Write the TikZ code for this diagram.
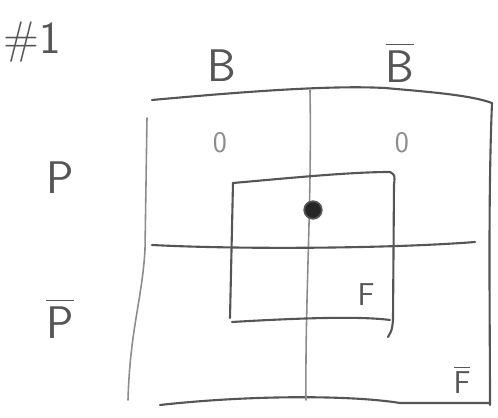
\documentclass[tikz,border=0pt]{standalone}
\usepackage{amsmath}
\usepackage{xcolor}
\definecolor{pencil}{RGB}{85,85,85}
\definecolor{pencillight}{RGB}{140,140,140}
\tikzset{
  pen/.style={pencil,line width=1.2pt,line cap=round,line join=round},
  penlight/.style={pencillight,line width=0.9pt,line cap=round},
  hand/.style={pencil,font=\sffamily\fontsize{26}{28}\selectfont},
  handsmall/.style={pencillight,font=\sffamily\fontsize{17}{18}\selectfont}
}

\begin{document}
\begin{tikzpicture}[x=0.02cm,y=-0.02cm]
  \useasboundingbox (0,0) rectangle (498,418);
  % labels
  \node[hand] (num) at (32,42) {\#1};
  \node[hand] (b) at (222,66) {B};
  \node[hand] (bbar) at (400,62) {$\overline{\text{B}}$};
  \node[hand] (p) at (60,178) {P};
  \node[hand] (pbar) at (60,318) {$\overline{\text{P}}$};
  % outer square
  \draw[pen](152,100) .. controls (240,92) and (330,85) .. (385,88) .. controls (430,92) and (470,95) .. (492,103);
  \draw[penlight](147,118)--(145,250) .. controls (142,300) and (130,330) .. (128,400);
  \draw[pen](492,103) .. controls (488,200) and (490,320) .. (490,405);
  \draw[pen](160,405) .. controls (250,395) and (350,395) .. (400,403)--(490,403);
  % cross lines
  \draw[penlight](310,90) .. controls (312,200) and (305,300) .. (306,400);
  \draw[pen](152,245) .. controls (250,250) and (400,248) .. (475,242);
  % inner square
  \draw[pen](233,183) .. controls (290,178) and (350,172) .. (390,172) .. controls (395,175) .. (394,185)--(393,320) .. controls (392,330) .. (388,337);
  \draw[pen](233,183)--(230,318);
  \draw[pen](232,322) .. controls (300,318) and (360,316) .. (390,320);
  % cell marks
  \node[handsmall] (ob) at (220,143) {0};
  \node[handsmall] (obbar) at (402,143) {0};
  \node[circle,fill=black!85,draw=pencil,line width=1pt,inner sep=0pt,minimum size=10pt] (dot) at (313,210) {};
  \node[hand,font=\sffamily\fontsize{18}{20}\selectfont] (f) at (366,295) {F};
  \node[hand,font=\sffamily\fontsize{18}{20}\selectfont] (fbar) at (462,380) {$\overline{\text{F}}$};
\end{tikzpicture}
\end{document}
